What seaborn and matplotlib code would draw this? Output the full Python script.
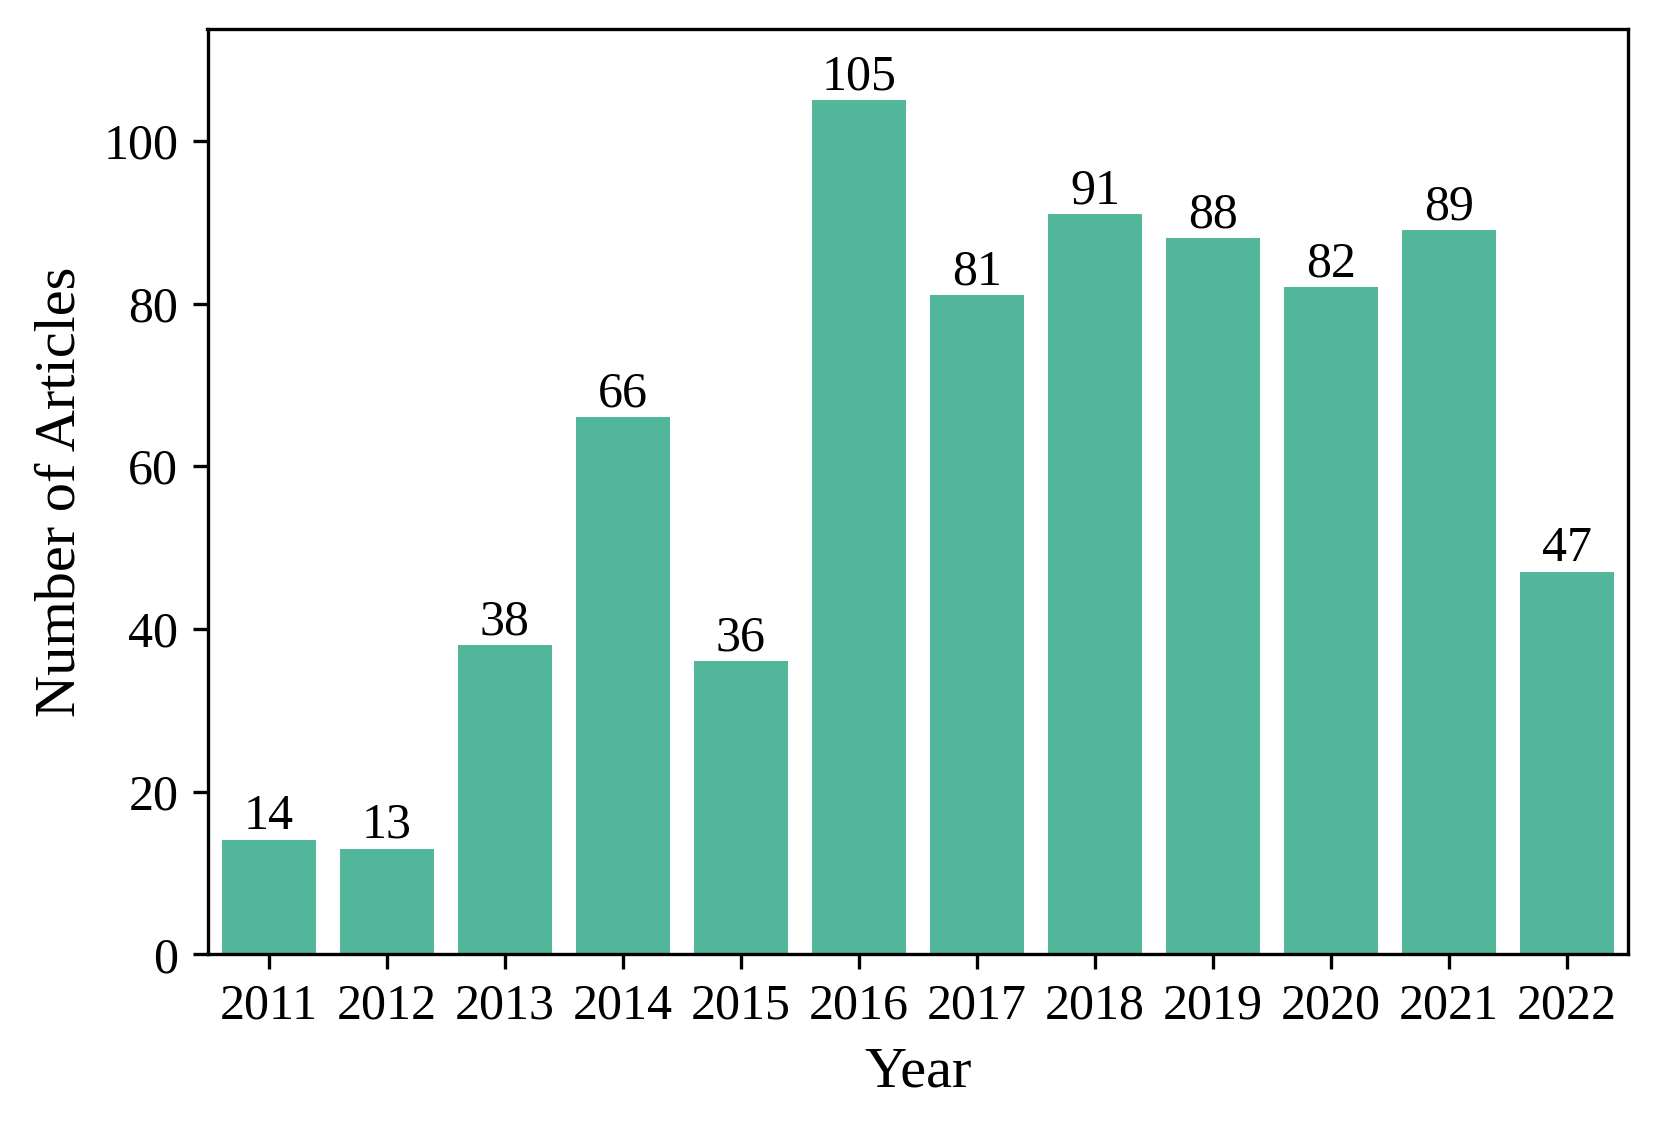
import matplotlib
matplotlib.use("Agg")
import matplotlib.pyplot as plt
import seaborn as sns
import pandas as pd

years = ["2011", "2012", "2013", "2014", "2015", "2016", "2017", "2018", "2019", "2020", "2021", "2022"]
counts = [14, 13, 38, 66, 36, 105, 81, 91, 88, 82, 89, 47]

sns.set_style("ticks")
plt.rcParams['font.family'] = ['Liberation Serif', 'DejaVu Serif']
plt.rcParams['font.size'] = 12
plt.rcParams['text.color'] = 'black'
plt.rcParams['axes.labelcolor'] = 'black'
plt.rcParams['xtick.color'] = 'black'
plt.rcParams['ytick.color'] = 'black'

df = pd.DataFrame({"Year": years, "Count": counts})
fig = plt.figure(figsize=(1660/300, 1132/300), dpi=300)
ax = fig.add_axes([0.125, 0.157, 0.856, 0.817])
sns.barplot(data=df, x="Year", y="Count", color="#52b69a", saturation=1, width=0.8,
            linewidth=0, ax=ax)
for c in ax.containers:
    ax.bar_label(c, labels=[str(v) for v in counts], padding=0, fontsize=12, color="black")
ax.set_ylim(0, 113.7)
ax.set_xlim(-0.52, 11.52)
ax.set_xlabel("Year", fontsize=14, labelpad=4)
ax.set_ylabel("Number of Articles", fontsize=14, labelpad=4)
ax.tick_params(labelsize=12, width=0.8, length=3.5, colors="black")
for s in ax.spines.values():
    s.set_linewidth(0.8)
    s.set_color("black")
fig.savefig("out.png", dpi=300)
